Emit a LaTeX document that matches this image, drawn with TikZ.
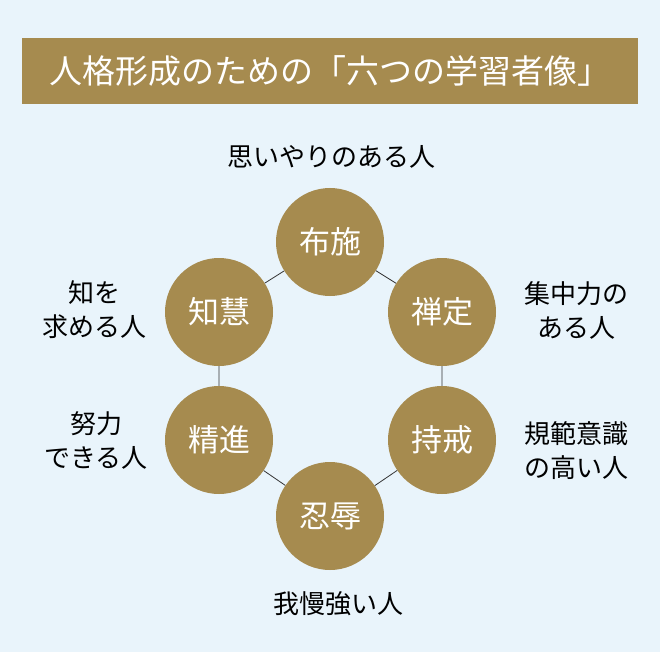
\documentclass[tikz,border=0pt]{standalone}
\usepackage{fontspec}
\newfontfamily\cjk{Noto Sans CJK JP}
\definecolor{bg}{HTML}{E9F4FB}
\definecolor{gold}{HTML}{A68B4F}
\tikzset{ring/.style={circle,fill=gold,minimum size=108pt,inner sep=0pt,text=white,font=\cjk\fontsize{31}{34}\selectfont},
lab/.style={font=\cjk\fontsize{26}{34}\selectfont,align=center,text=black}}
\begin{document}
\begin{tikzpicture}[x=1pt,y=-1pt]
\fill[bg] (0,0) rectangle (660,652);
\useasboundingbox (0,0) rectangle (660,652);
\fill[gold] (22,38) rectangle (638,104);
\node[font=\cjk\fontsize{33}{36}\selectfont,text=white] (title) at (330,71) {人格形成のための「六つの学習者像」};
\node[ring] (a) at (330,242) {布施};
\node[ring] (b) at (442,312) {禅定};
\node[ring] (c) at (442,440) {持戒};
\node[ring] (d) at (330,516) {忍辱};
\node[ring] (e) at (219,440) {精進};
\node[ring] (f) at (219,312) {知慧};
\draw[black!80,line width=0.8pt] (a)--(b) (b)--(c) (c)--(d) (d)--(e) (e)--(f) (f)--(a);
\node[lab] (la) at (331,157) {思いやりのある人};
\node[lab] (lb) at (576,310) {集中力の\\ある人};
\node[lab] (lc) at (576,451) {規範意識\\の高い人};
\node[lab] (ld) at (338,604) {我慢強い人};
\node[lab] (le) at (96,440) {努力\\できる人};
\node[lab] (lf) at (94,310) {知を\\求める人};
\end{tikzpicture}
\end{document}
